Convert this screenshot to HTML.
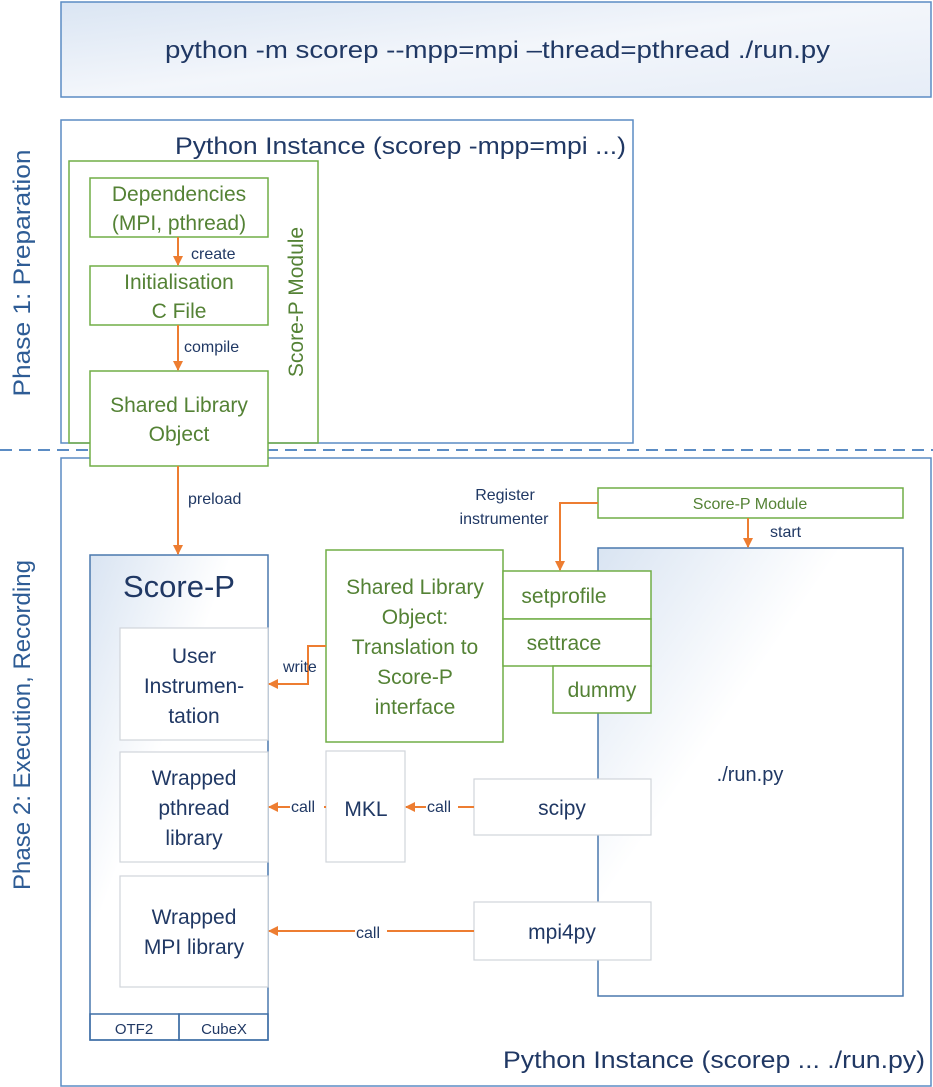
<!DOCTYPE html>
<html><head><meta charset="utf-8"><style>
body{margin:0;background:#fff}
svg{display:block;font-family:"Liberation Sans",sans-serif}
.b{fill:#203864}.g{fill:#548235}
</style></head><body>
<svg width="933" height="1087" viewBox="0 0 933 1087" xmlns="http://www.w3.org/2000/svg">
<defs>
<linearGradient id="lg" x1="0" y1="0" x2="1" y2="1"><stop offset="0" stop-color="#dae5f3"/><stop offset="0.5" stop-color="#f3f6fb"/><stop offset="1" stop-color="#e6edf7"/></linearGradient>
<linearGradient id="lg2" x1="0" y1="0" x2="1" y2="1"><stop offset="0" stop-color="#d9e4f2"/><stop offset="0.4" stop-color="#ffffff"/><stop offset="1" stop-color="#ffffff"/></linearGradient>
<marker id="a" markerWidth="10" markerHeight="10" refX="9" refY="5" orient="auto" markerUnits="userSpaceOnUse"><path d="M0,0 L10,5 L0,10 z" fill="#ed7d31"/></marker>
</defs>
<g stroke="#5b8cc4" stroke-width="1.5" fill="none">
<rect x="61" y="2" width="870" height="95" fill="url(#lg)"/>
<rect x="61" y="120" width="572" height="323" fill="#fff"/>
<rect x="61" y="458" width="870" height="628" fill="#fff"/>
<rect x="598" y="548" width="305" height="448" fill="url(#lg2)" stroke="#4a78ad"/>
<rect x="90" y="555" width="178" height="485" fill="url(#lg2)" stroke="#4a78ad"/>
<rect x="90" y="1014" width="89" height="26" stroke="#3f6ea5"/>
<rect x="179" y="1014" width="89" height="26" stroke="#3f6ea5"/>
</g>
<line x1="0" y1="450" x2="933" y2="450" stroke="#5b8cc4" stroke-width="2" stroke-dasharray="12,7"/>
<g stroke="#d0d4da" stroke-width="1.2" fill="#fff">
<rect x="120" y="628" width="148" height="112"/>
<rect x="120" y="752" width="148" height="110"/>
<rect x="120" y="876" width="148" height="111"/>
<rect x="326" y="751" width="79" height="111"/>
<rect x="474" y="779" width="177" height="56"/>
<rect x="474" y="902" width="177" height="58"/>
</g>
<g stroke="#70ad47" stroke-width="1.5" fill="#fff">
<rect x="69" y="161" width="249" height="282" fill="none"/>
<rect x="90" y="178" width="178" height="59"/>
<rect x="90" y="266" width="178" height="59"/>
<rect x="90" y="371" width="178" height="95"/>
<rect x="326" y="550" width="177" height="192"/>
<rect x="503" y="571" width="148" height="48"/>
<rect x="503" y="619" width="148" height="47"/>
<rect x="553" y="666" width="98" height="47"/>
<rect x="598" y="488" width="305" height="30"/>
</g>
<g stroke="#ed7d31" stroke-width="2" fill="none" marker-end="url(#a)">
<line x1="178" y1="237" x2="178" y2="265"/>
<line x1="178" y1="325" x2="178" y2="370"/>
<line x1="178" y1="466" x2="178" y2="554"/>
<polyline points="598,503 560,503 560,570"/>
<line x1="748" y1="518" x2="748" y2="547"/>
<polyline points="326,646 308,646 308,684 269,684"/>
<line x1="326" y1="807" x2="269" y2="807"/>
<line x1="474" y1="807" x2="406" y2="807"/>
<line x1="474" y1="931" x2="269" y2="931"/>
</g>
<g font-size="24" class="b">
<text x="165" y="58" textLength="665" lengthAdjust="spacingAndGlyphs">python -m scorep  --mpp=mpi –thread=pthread ./run.py</text>
<text x="175" y="154" textLength="451" lengthAdjust="spacingAndGlyphs">Python Instance (scorep -mpp=mpi ...)</text>
<text x="503" y="1068" textLength="422" lengthAdjust="spacingAndGlyphs">Python Instance (scorep ... ./run.py)</text>
<text transform="translate(30,273) rotate(-90)" text-anchor="middle" fill="#2e5c95" textLength="247" lengthAdjust="spacingAndGlyphs">Phase 1: Preparation</text>
<text transform="translate(30,725) rotate(-90)" text-anchor="middle" fill="#2e5c95" textLength="330" lengthAdjust="spacingAndGlyphs">Phase 2: Execution, Recording</text>
<text x="179" y="597" text-anchor="middle" font-size="31">Score-P</text>
</g>
<g font-size="21" class="g" text-anchor="middle">
<text x="179" y="201">Dependencies</text><text x="179" y="230">(MPI, pthread)</text>
<text x="179" y="289">Initialisation</text><text x="179" y="318">C File</text>
<text x="179" y="412">Shared Library</text><text x="179" y="441">Object</text>
<text transform="translate(303,302) rotate(-90)">Score-P Module</text>
<text x="415" y="594">Shared Library</text><text x="415" y="624">Object:</text><text x="415" y="654">Translation to</text><text x="415" y="684">Score-P</text><text x="415" y="714">interface</text>
<text x="564" y="603">setprofile</text><text x="564" y="650">settrace</text><text x="602" y="697">dummy</text>
<text x="750" y="509" font-size="16">Score-P Module</text>
</g>
<g font-size="21" class="b" text-anchor="middle">
<text x="194" y="663">User</text><text x="194" y="693">Instrumen-</text><text x="194" y="723">tation</text>
<text x="194" y="785">Wrapped</text><text x="194" y="815">pthread</text><text x="194" y="845">library</text>
<text x="194" y="924">Wrapped</text><text x="194" y="954">MPI library</text>
<text x="366" y="816">MKL</text>
<text x="562" y="815">scipy</text>
<text x="562" y="939">mpi4py</text>
<text x="750" y="781" font-size="20">./run.py</text>
<text x="134" y="1034" font-size="15">OTF2</text><text x="224" y="1034" font-size="15">CubeX</text>
</g>
<g font-size="16" class="b">
<text x="191" y="259">create</text>
<text x="184" y="352">compile</text>
<text x="188" y="504">preload</text>
<text x="505" y="500" text-anchor="middle">Register</text>
<text x="504" y="524" text-anchor="middle">instrumenter</text>
<text x="770" y="537">start</text>
<text x="283" y="672">write</text>
<rect x="290" y="797" width="34" height="18" fill="#fff"/><text x="291" y="812">call</text>
<rect x="426" y="797" width="32" height="18" fill="#fff"/><text x="427" y="812">call</text>
<rect x="355" y="921" width="32" height="18" fill="#fff"/><text x="356" y="938">call</text>
</g>
</svg>
</body></html>
